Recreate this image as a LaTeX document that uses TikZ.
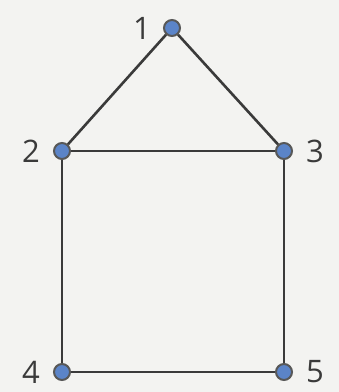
\documentclass[tikz,border=0pt]{standalone}
\usepackage{fontspec}
\setmainfont{Open Sans}
\usepackage{tikz}
\usetikzlibrary{positioning}
\usepackage{xcolor}
\definecolor{DotBlue}{HTML}{5B84C8}
\definecolor{EdgeGrey}{HTML}{3A3A3A}
\definecolor{Paper}{HTML}{F3F3F1}

\begin{document}
\begin{tikzpicture}[
        x=1pt, y=-1pt,
        vertex/.style={circle, draw=EdgeGrey!85, fill=DotBlue, line width=2pt, minimum size=16pt, inner sep=0pt},
        num/.style={font=\fontsize{31}{31}\selectfont, text=EdgeGrey, inner sep=0pt},
        edge/.style={draw=EdgeGrey, line width=2.6pt}
    ]
        % Background
        \fill [Paper] (0,0) rectangle (339,392);
        \useasboundingbox (0,0) rectangle (339,392);

        % Nodes
        \node (v1) [vertex] at (172,28) {};
        \node (v2) [vertex] at (62,151) {};
        \node (v3) [vertex] at (284,151) {};
        \node (v4) [vertex] at (62,372) {};
        \node (v5) [vertex] at (284,372) {};

        % Connectors
        \draw [edge] (v1) -- (v2);
        \draw [edge] (v1) -- (v3);
        \draw [edge] (v2) -- (v3);
        \draw [edge] (v2) -- (v4);
        \draw [edge] (v3) -- (v5);
        \draw [edge] (v4) -- (v5);

        % Labels
        \node [num, left=12pt of v1] {1};
        \node [num, left=13pt of v2] {2};
        \node [num, right=13pt of v3] {3};
        \node [num, left=13pt of v4] {4};
        \node [num, right=13pt of v5] {5};
    \end{tikzpicture}
\end{document}
